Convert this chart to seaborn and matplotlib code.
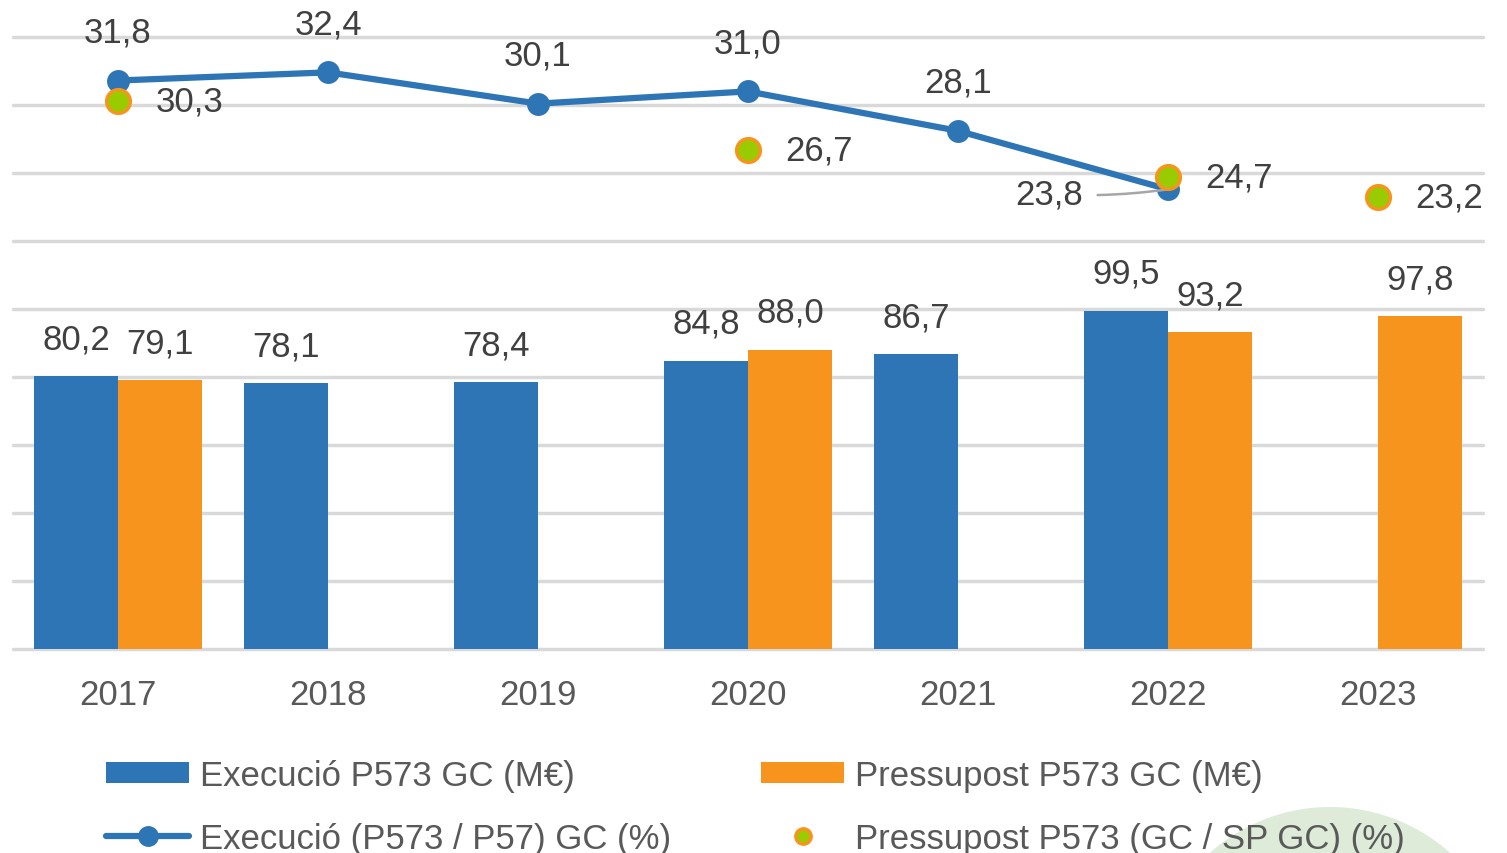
import numpy as np
import pandas as pd
import matplotlib
matplotlib.use('Agg')
import matplotlib.pyplot as plt
from matplotlib.lines import Line2D
from matplotlib.patches import Patch, Ellipse
import seaborn as sns

# Data
years = ['2017', '2018', '2019', '2020', '2021', '2022', '2023']
exec_meur = [80.2, 78.1, 78.4, 84.8, 86.7, 99.5, np.nan]
pres_meur = [79.1, np.nan, np.nan, 88.0, np.nan, 93.2, 97.8]
exec_pct = [31.8, 32.4, 30.1, 31.0, 28.1, 23.8, np.nan]
pres_pct = [30.3, np.nan, np.nan, 26.7, np.nan, 24.7, 23.2]

lab_exec = 'Execució P573 GC (M€)'
lab_pres = 'Pressupost P573 GC (M€)'
lab_exec_pct = 'Execució (P573 / P57) GC (%)'
lab_pres_pct = 'Pressupost P573 (GC / SP GC) (%)'

BLUE = '#2E75B6'
ORANGE = '#F7941D'
GREEN = '#99CC00'
GRID = '#D9D9D9'
DARK = '#404040'
GREY = '#595959'

sns.set_style('white')
plt.rcParams['font.family'] = ['Liberation Sans', 'DejaVu Sans']
FS = 25

def fmt(v):
    return f'{v:.1f}'.replace('.', ',')

df = pd.DataFrame({'year': years * 2,
                   'serie': [lab_exec] * 7 + [lab_pres] * 7,
                   'value': exec_meur + pres_meur}).dropna()

fig = plt.figure(figsize=(15.07, 8.54), dpi=100)
ax = fig.add_axes([13 / 1507, 1 - 650 / 854, 1470 / 1507, 612 / 854])

sns.barplot(data=df, x='year', y='value', hue='serie', order=years,
            hue_order=[lab_exec, lab_pres], palette=[BLUE, ORANGE], saturation=1,
            errorbar=None, width=0.8, linewidth=0, legend=False, ax=ax)

pos = np.arange(len(years))
for i, v in enumerate(exec_meur):
    if not np.isnan(v):
        ax.annotate(fmt(v), (i - 0.2, v), xytext=(0, 27), textcoords='offset points',
                    ha='center', va='center', fontsize=FS, color=DARK)
for i, v in enumerate(pres_meur):
    if not np.isnan(v):
        ax.annotate(fmt(v), (i + 0.2, v), xytext=(0, 27), textcoords='offset points',
                    ha='center', va='center', fontsize=FS, color=DARK)

# secondary axis for the percentages
ax2 = ax.twinx()
sns.lineplot(x=pos, y=exec_pct, ax=ax2, color=BLUE, lw=4.5, marker='o',
             markersize=16.5, markeredgewidth=0)
sns.scatterplot(x=pos, y=pres_pct, ax=ax2, color=GREEN, edgecolor=ORANGE,
                linewidth=2.5, s=290, zorder=5)
ax2.set_ylim(-10, 35)
ax2.set_yticks([])
ax2.set_ylabel('')
sns.despine(ax=ax2, left=True, bottom=True, right=True)

ax.set_xlim(-0.5, 6.5)
ax.set_ylim(0, 180)
ax.set_yticks(range(0, 181, 20))
ax.grid(axis='y', color=GRID, lw=2.5)
ax.set_axisbelow(True)
for gl in ax.get_ygridlines():
    gl.set_clip_on(False)
sns.despine(ax=ax, left=True, bottom=True)
ax.tick_params(axis='y', left=False, right=False, labelleft=False)
ax.tick_params(axis='x', length=0, pad=21, labelsize=FS, labelcolor=GREY)
ax.set_xlabel('')
ax.set_ylabel('')

for i, v in enumerate(exec_pct):
    if np.isnan(v):
        continue
    if years[i] == '2022':
        ax2.annotate(fmt(v), (i, v), xytext=(-61, -3.5), textcoords='offset points',
                     ha='right', va='center', fontsize=FS, color=DARK,
                     arrowprops=dict(arrowstyle='-', color='#A6A6A6', lw=1.8,
                                     shrinkA=8, shrinkB=0,
                                     connectionstyle='arc3,rad=0.05'))
    else:
        ax2.annotate(fmt(v), (i, v), xytext=(0, 35), textcoords='offset points',
                     ha='center', va='center', fontsize=FS, color=DARK)
for i, v in enumerate(pres_pct):
    if not np.isnan(v):
        ax2.annotate(fmt(v), (i, v), xytext=(27, 0), textcoords='offset points',
                     ha='left', va='center', fontsize=FS, color=DARK)

# faint logo circle in the corner
fig.patches.append(Ellipse((1330 / 1507, 1 - 988 / 854), 360 / 1507, 360 / 854,
                           transform=fig.transFigure, facecolor='#DDEBD8',
                           edgecolor='none', zorder=0))

handles = [Patch(facecolor=BLUE, edgecolor='none'),
           Line2D([], [], color=BLUE, lw=4.5, marker='o', markersize=14,
                  solid_capstyle='round'),
           Patch(facecolor=ORANGE, edgecolor='none'),
           Line2D([], [], ls='none', marker='o', markersize=11,
                  markerfacecolor=GREEN, markeredgecolor=ORANGE, markeredgewidth=2.5)]
labels = [lab_exec, lab_exec_pct, lab_pres, lab_pres_pct]
fig.legend(handles, labels, ncol=2, loc='upper left',
           bbox_to_anchor=(106 / 1507, 1 - 760 / 854), frameon=False,
           fontsize=FS, labelcolor=GREY, handlelength=2.4, handleheight=0.55,
           handletextpad=0.3, columnspacing=2.6, labelspacing=0.85,
           borderpad=0, borderaxespad=0)

fig.savefig('out.png', dpi=100)
